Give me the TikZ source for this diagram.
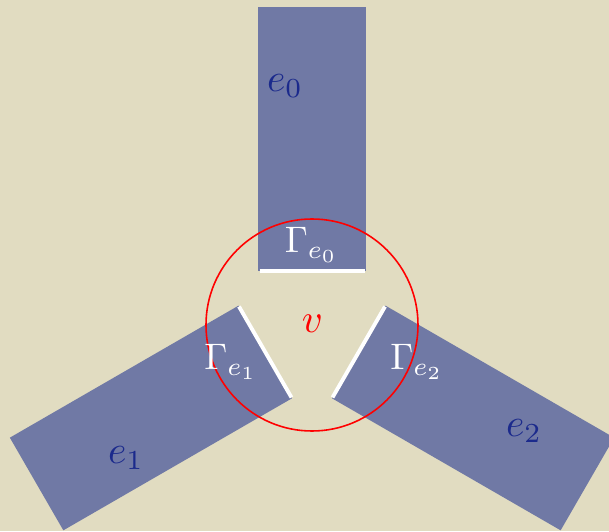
\documentclass[tikz,border=0pt]{standalone}
\definecolor{paper}{HTML}{E1DCC1}
\definecolor{bandblue}{HTML}{7079A5}
\definecolor{labblue}{HTML}{1B2A8C}
\begin{document}
\begin{tikzpicture}[>=latex,
  band/.style={fill=bandblue},
  gate/.style={draw=white,line width=1.1pt},
  elab/.style={text=labblue,font=\normalsize,scale=1.12},
  glab/.style={text=white,font=\normalsize,scale=1.05}]
  \fill[paper] (-3.12,-2.06) rectangle (2.97,3.25);
  \useasboundingbox (-3.12,-2.06) rectangle (2.97,3.25);
  % the three half-edges, each turned by a third of a turn about v
  \foreach \r in {0,120,240} {
    \fill[band,rotate=\r] (-.535,.54) rectangle (.535,3.18);
    \draw[gate,rotate=\r] (-.525,.54) -- (.525,.54);
  }
  \draw[red,line width=.45pt] (0,0) circle (1.06);
  \node[text=red,font=\normalsize,scale=1.15] (v) at (.005,.01) {$v$};
  \node[elab] (e0) at (-.27,2.39) {$e_0$};
  \node[elab] (e1) at (-1.86,-1.33) {$e_1$};
  \node[elab] (e2) at (2.12,-1.06) {$e_2$};
  \node[glab] (g0) at (-.005,.80) {$\Gamma_{e_0}$};
  \node[glab] (g1) at (-.81,-.37) {$\Gamma_{e_1}$};
  \node[glab] (g2) at (1.05,-.37) {$\Gamma_{e_2}$};
\end{tikzpicture}
\end{document}
